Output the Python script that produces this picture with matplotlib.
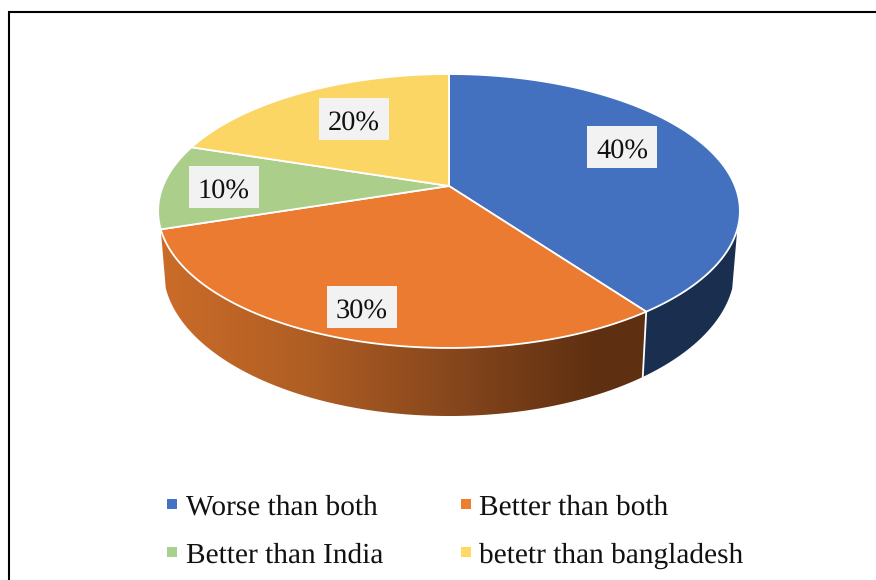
import numpy as np
import matplotlib
matplotlib.use('Agg')
import matplotlib.pyplot as plt
from matplotlib.colors import LinearSegmentedColormap
from matplotlib.patches import Polygon, Rectangle

# --- data ---
categories = ['Worse than both', 'Better than both', 'Better than India', 'betetr than bangladesh']
values = [40, 30, 10, 20]

# --- style ---
colors = ['#4472c4', '#ed7d31', '#a9d18e', '#ffd966']
face_colors = ['#4371c0', '#ea7b30', '#abcf8b', '#fbd665']
navy_side = '#1a2e50'
side_stops = [(0.0, '#cb6c29'), (0.3, '#b05e24'), (0.62, '#84451c'), (0.9, '#5e2f11'), (1.0, '#5e2f11')]
label_centers = [(622, 147), (362, 307), (224, 187), (354, 119)]
legend_slots = [(167, 499, 186, 515), (461, 499, 479, 515), (167, 547, 186, 563), (461, 547, 479, 563)]

plt.rcParams['font.family'] = ['Liberation Serif', 'DejaVu Serif']
plt.rcParams['text.hinting'] = 'none'


def project(theta, cy, a, b, p=0.1825, cx=449.0):
    # perspective view of a disc, theta runs clockwise from the back of the pie
    u = np.sin(theta)
    v = np.cos(theta)
    d = 1 + p * v
    return np.column_stack((cx + a * u / d, cy - b * v / d))


def top_disc(theta):
    return project(theta, 186.0, 286.0, 132.4)


def bottom_disc(theta):
    return project(theta, 241.7, 281.0, 142.5)


def arc(start, stop):
    return np.linspace(start, stop, 200)


def side_poly(start, stop):
    t = arc(start, stop)
    return np.vstack((top_disc(t), bottom_disc(t)[::-1]))


fig = plt.figure(figsize=(8.76, 5.8), dpi=100, facecolor='white')
ax = fig.add_axes([0, 0, 1, 1])

edges = np.radians(np.cumsum([0] + values) * 360.0 / sum(values))

# side walls: only the front of the pie shows
blue_side = Polygon(side_poly(np.radians(108), edges[1]), closed=True, fc=navy_side, ec='none', zorder=1)
ax.add_patch(blue_side)

orange_side = Polygon(side_poly(edges[1], edges[2]), closed=True, fc='none', ec='none', zorder=1)
ax.add_patch(orange_side)
cmap = LinearSegmentedColormap.from_list('side', side_stops)
grad = ax.imshow(np.linspace(0, 1, 256).reshape(1, -1), cmap=cmap, aspect='auto',
                 extent=(160, 648, 420, 225), zorder=1)
grad.set_clip_path(orange_side)

# white seam between the two walls
seam = np.vstack((top_disc(edges[1:2]), bottom_disc(edges[1:2])))
ax.plot(seam[:, 0], seam[:, 1], color='white', lw=1.3, zorder=2)

# top faces
for i in range(len(values)):
    rim = top_disc(arc(edges[i], edges[i + 1]))
    pts = np.vstack(([[449.0, 186.0]], rim))
    ax.add_patch(Polygon(pts, closed=True, fc=face_colors[i], ec='white', lw=1.3, joinstyle='round', zorder=3))

# value labels
for val, (lx, ly) in zip(values, label_centers):
    ax.add_patch(Rectangle((lx - 35, ly - 21), 70, 42, fc='#f2f2f2', ec='none', zorder=4))
    ax.text(lx, ly + 11.5, f'{val}%', fontsize=20.4, color='#111111', ha='center', va='baseline', zorder=5)

# legend
for name, col, (sx, sy, tx, ty) in zip(categories, colors, legend_slots):
    ax.add_patch(Rectangle((sx, sy), 10, 10, fc=col, ec='none', zorder=4))
    ax.text(tx, ty, name, fontsize=21.2, color='#111111', ha='left', va='baseline', zorder=5)

# frame, open on the right and at the bottom
ax.plot([9, 9, 876], [580, 12, 12], color='black', lw=1.5, solid_joinstyle='miter', zorder=6)

ax.set_xlim(0, 876)
ax.set_ylim(580, 0)
ax.axis('off')

fig.savefig('out.png', dpi=100, facecolor='white')
